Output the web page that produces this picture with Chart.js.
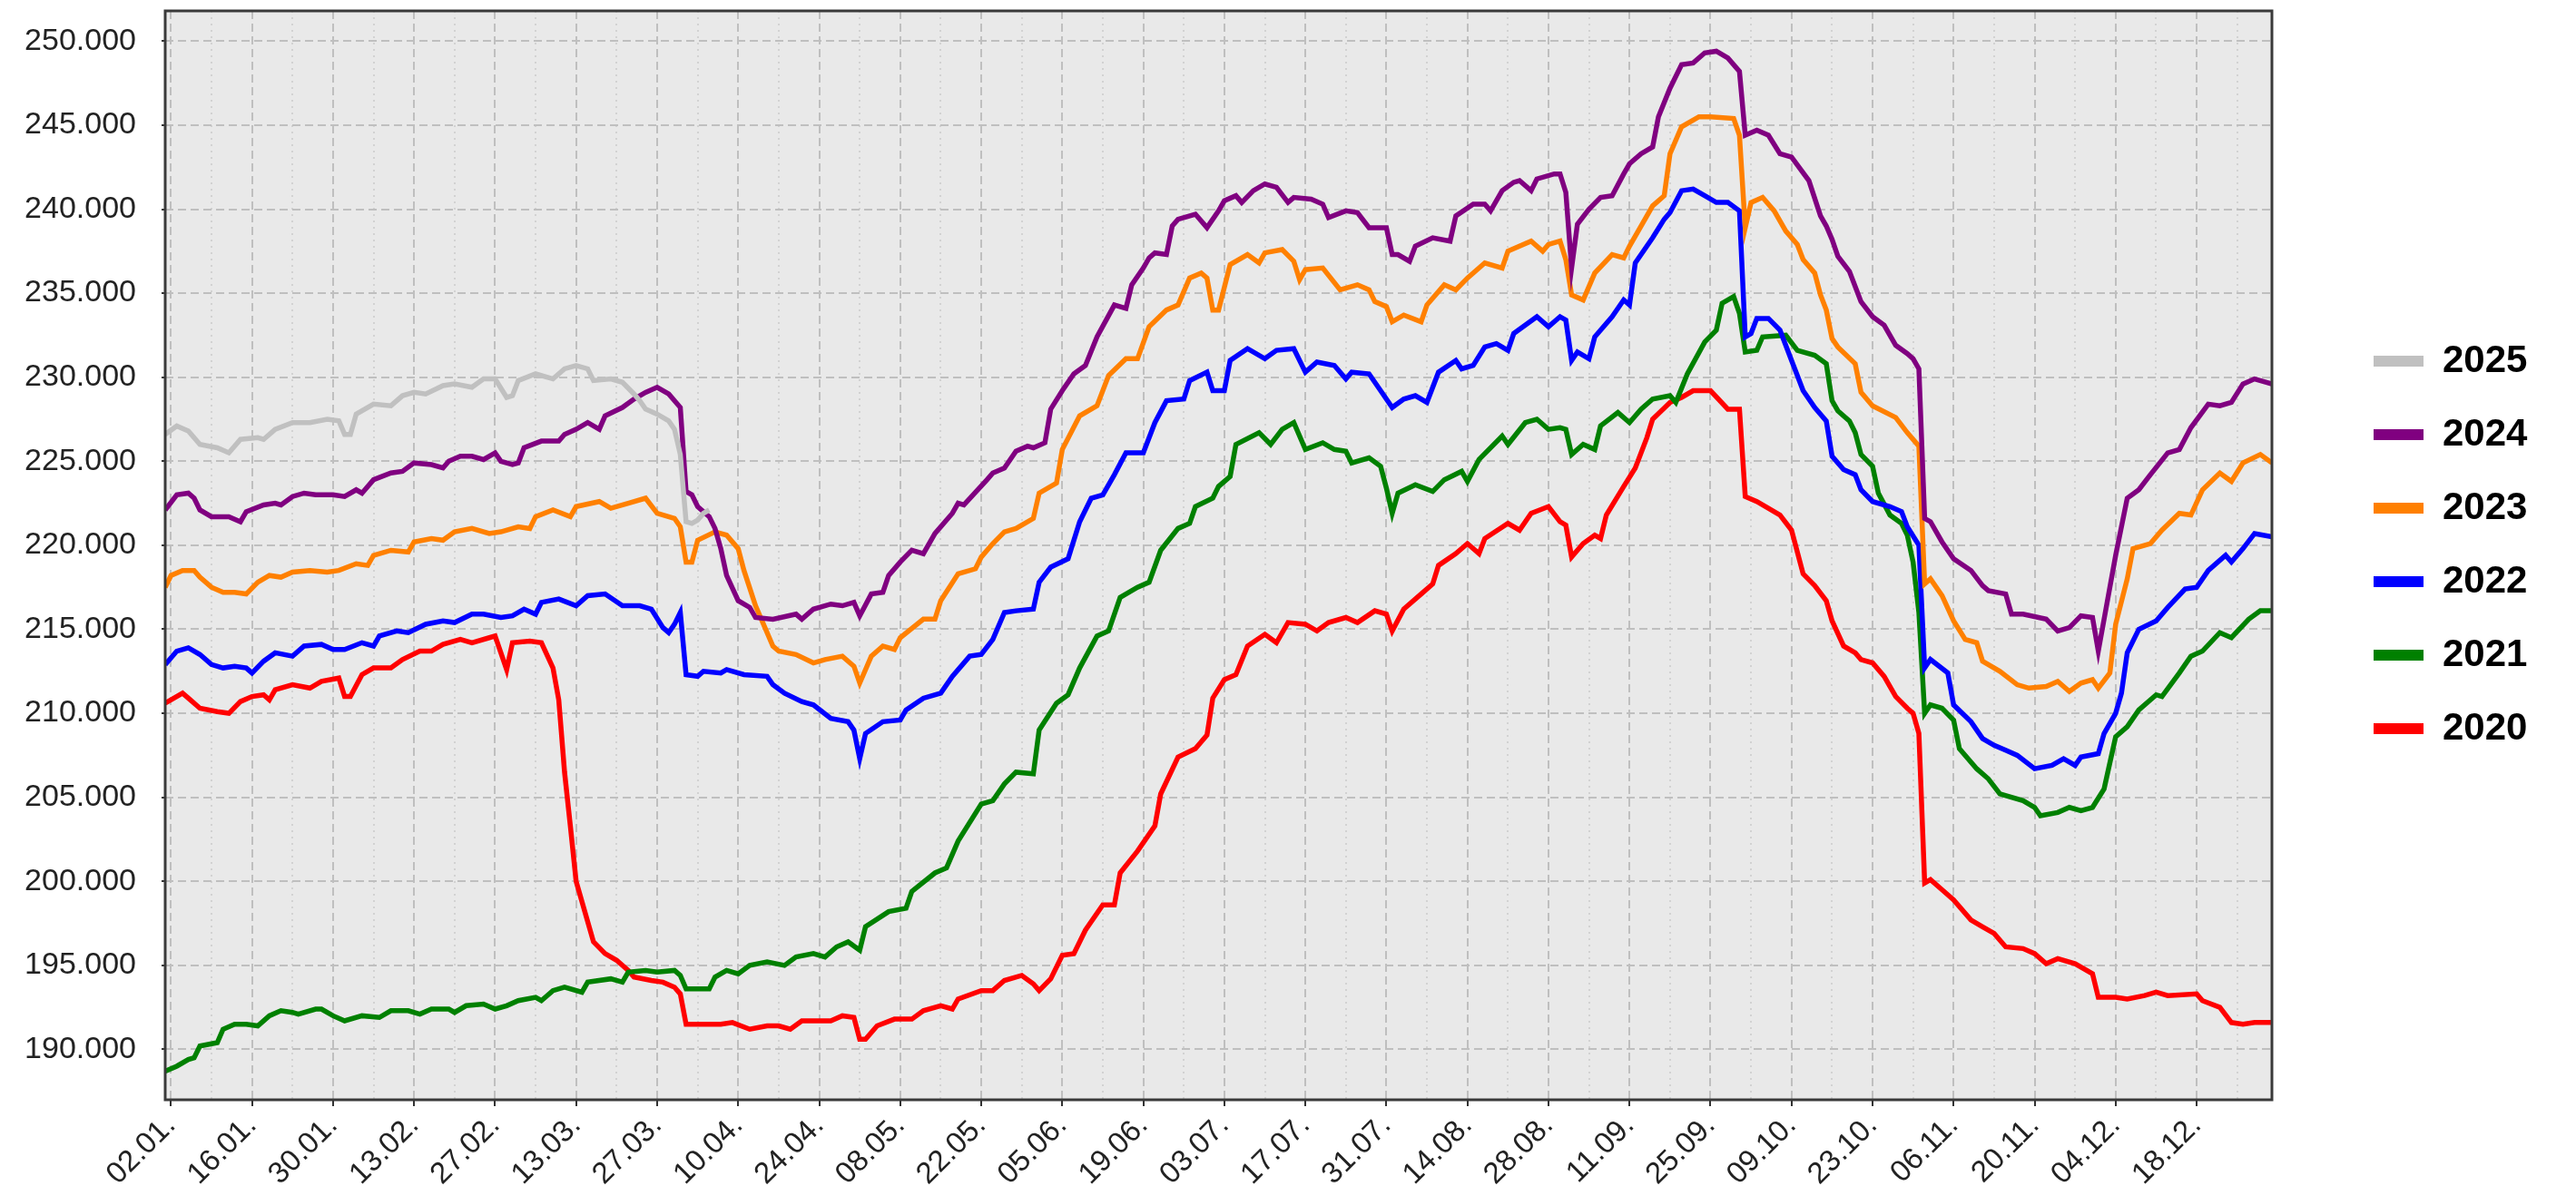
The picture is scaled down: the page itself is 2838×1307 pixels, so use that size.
<!DOCTYPE html>
<html>
<head>
<meta charset="utf-8">
<script src="https://cdn.jsdelivr.net/npm/chart.js"></script>
<style>
  html, body { margin: 0; padding: 0; background: #ffffff; }
  #wrap { width: 2838px; height: 1307px; position: relative; }
</style>
</head>
<body>
<div id="wrap"><canvas id="c"></canvas></div>
<script>
// ---------- data (day of year, value) ----------
const years = ['2025', '2024', '2023', '2022', '2021', '2020'];
const colors = ['#c0c0c0', '#800080', '#ff8000', '#0000ff', '#008000', '#ff0000'];

const s2025 = [[1,226600],[3,227100],[5,226800],[7,226000],[10,225800],[12,225500],[14,226300],[17,226400],[18,226300],[20,226900],[23,227300],[26,227300],[29,227500],[31,227400],[32,226600],[33,226600],[34,227800],[37,228400],[40,228300],[42,228900],[44,229100],[46,229000],[49,229500],[51,229600],[54,229400],[56,229900],[58,229900],[60,228800],[61,228900],[62,229800],[65,230200],[68,229900],[70,230500],[72,230700],[74,230500],[75,229800],[78,229900],[80,229700],[82,229000],[83,228600],[84,228100],[86,227800],[88,227400],[89,226900],[90,225400],[91,221400],[92,221300],[93,221500],[94,221900],[95,222100]];

const s2024 = [[1,222100],[3,223000],[5,223100],[6,222800],[7,222100],[9,221700],[12,221700],[14,221400],[15,222000],[18,222400],[20,222500],[21,222400],[23,222900],[25,223100],[27,223000],[30,223000],[32,222900],[34,223300],[35,223100],[37,223900],[40,224300],[42,224400],[44,224900],[47,224800],[49,224600],[50,225000],[52,225300],[54,225300],[56,225100],[58,225500],[59,225000],[61,224800],[62,224900],[63,225800],[66,226200],[69,226200],[70,226600],[72,226900],[74,227300],[76,226900],[77,227700],[80,228200],[82,228700],[84,229100],[86,229400],[88,229000],[90,228200],[91,223200],[92,223000],[93,222300],[95,221700],[96,221000],[97,219800],[98,218200],[100,216700],[102,216300],[103,215700],[106,215600],[110,215900],[111,215600],[113,216200],[116,216500],[118,216400],[120,216600],[121,215800],[123,217100],[125,217200],[126,218200],[128,219000],[130,219700],[132,219500],[134,220700],[137,221900],[138,222500],[139,222400],[143,223900],[144,224300],[146,224600],[148,225600],[150,225900],[151,225800],[153,226100],[154,228100],[156,229200],[158,230200],[160,230700],[162,232400],[165,234300],[167,234100],[168,235500],[170,236500],[171,237100],[172,237400],[174,237300],[175,239000],[176,239400],[179,239700],[181,238900],[183,239900],[184,240500],[186,240800],[187,240400],[189,241100],[191,241500],[193,241300],[195,240400],[196,240700],[199,240600],[201,240300],[202,239500],[205,239900],[207,239800],[209,238900],[212,238900],[213,237300],[214,237300],[216,236900],[217,237800],[220,238300],[223,238100],[224,239600],[227,240300],[229,240300],[230,239900],[232,241100],[234,241600],[235,241700],[237,241100],[238,241800],[241,242100],[242,242100],[243,241000],[244,236500],[245,239100],[247,240000],[249,240700],[251,240800],[253,242100],[254,242700],[256,243300],[258,243700],[259,245500],[261,247200],[263,248600],[265,248700],[267,249300],[269,249400],[271,249000],[273,248200],[274,244400],[276,244700],[278,244400],[280,243300],[282,243100],[285,241700],[287,239600],[288,239000],[289,238200],[290,237200],[292,236300],[294,234500],[296,233600],[298,233100],[300,231900],[302,231400],[303,231100],[304,230500],[305,221600],[306,221400],[308,220200],[310,219200],[313,218500],[315,217600],[316,217300],[319,217100],[320,215900],[322,215900],[326,215600],[328,214900],[330,215100],[332,215800],[334,215700],[335,213700],[336,215600],[338,219400],[340,222800],[342,223300],[344,224200],[347,225500],[349,225700],[351,227000],[354,228400],[356,228300],[358,228500],[360,229600],[362,229900],[365,229600]];

const s2023 = [[1,217500],[2,218200],[4,218500],[6,218500],[7,218100],[9,217500],[11,217200],[13,217200],[15,217100],[17,217800],[19,218200],[21,218100],[23,218400],[26,218500],[29,218400],[31,218500],[34,218900],[36,218800],[37,219400],[40,219700],[43,219600],[44,220200],[47,220400],[49,220300],[51,220800],[54,221000],[57,220700],[59,220800],[62,221100],[64,221000],[65,221700],[68,222100],[71,221700],[72,222300],[76,222600],[78,222200],[81,222500],[84,222800],[86,221900],[89,221600],[90,221100],[91,219000],[92,219000],[93,220300],[96,220800],[98,220600],[100,219800],[101,218500],[103,216400],[106,214000],[107,213700],[110,213500],[113,213000],[115,213200],[118,213400],[120,212800],[121,211800],[123,213400],[125,214000],[127,213800],[128,214500],[132,215600],[134,215600],[135,216700],[138,218300],[141,218600],[142,219300],[144,220100],[146,220800],[148,221000],[151,221600],[152,223100],[155,223700],[156,225700],[159,227700],[162,228300],[164,230100],[167,231100],[169,231100],[171,233000],[174,234000],[176,234300],[178,235900],[180,236200],[181,235900],[182,234000],[183,234000],[185,236700],[188,237300],[190,236800],[191,237400],[194,237600],[196,236900],[197,235800],[198,236400],[201,236500],[204,235200],[207,235500],[209,235200],[210,234500],[212,234200],[213,233300],[215,233700],[218,233300],[219,234300],[222,235500],[224,235200],[226,235900],[229,236800],[232,236500],[233,237500],[237,238100],[239,237500],[240,237900],[242,238100],[243,237000],[244,234900],[246,234600],[248,236200],[251,237300],[253,237100],[254,237800],[256,239000],[258,240200],[260,240800],[261,243300],[263,244900],[266,245500],[268,245500],[272,245400],[273,244400],[274,238900],[275,240400],[277,240700],[279,239900],[281,238700],[283,237900],[284,237000],[286,236200],[287,234900],[288,234000],[289,232300],[290,231800],[293,230800],[294,229100],[296,228300],[300,227600],[302,226700],[304,225900],[305,217700],[306,218000],[308,217000],[310,215500],[312,214400],[314,214200],[315,213100],[318,212500],[321,211700],[323,211500],[326,211600],[328,211900],[330,211300],[332,211800],[334,212000],[335,211500],[337,212400],[338,215300],[340,218000],[341,219800],[344,220100],[346,220900],[349,221900],[351,221800],[353,223300],[356,224300],[358,223800],[360,224900],[363,225400],[365,224900]];

const s2022 = [[1,212900],[3,213700],[5,213900],[7,213500],[9,212900],[11,212700],[13,212800],[15,212700],[16,212400],[18,213100],[20,213600],[23,213400],[25,214000],[28,214100],[30,213800],[32,213800],[35,214200],[37,214000],[38,214600],[41,214900],[43,214800],[46,215300],[49,215500],[51,215400],[54,215900],[56,215900],[59,215700],[61,215800],[63,216200],[65,215900],[66,216600],[69,216800],[72,216400],[74,217000],[77,217100],[80,216400],[83,216400],[85,216200],[87,215100],[88,214800],[89,215300],[90,216000],[91,212300],[93,212200],[94,212500],[97,212400],[98,212600],[101,212300],[105,212200],[106,211700],[108,211200],[111,210700],[113,210500],[116,209700],[119,209500],[120,209000],[121,207300],[122,208800],[125,209500],[128,209600],[129,210200],[132,210900],[135,211200],[137,212200],[140,213400],[142,213500],[144,214400],[146,216000],[148,216100],[151,216200],[152,217800],[154,218700],[157,219200],[159,221400],[161,222800],[163,223000],[165,224200],[167,225500],[170,225500],[172,227300],[174,228600],[177,228700],[178,229800],[181,230300],[182,229200],[184,229200],[185,231000],[188,231700],[191,231100],[193,231600],[196,231700],[198,230300],[200,230900],[203,230700],[205,229900],[206,230300],[209,230200],[211,229200],[213,228200],[215,228700],[217,228900],[219,228500],[221,230300],[224,231000],[225,230500],[227,230700],[229,231800],[231,232000],[233,231600],[234,232600],[238,233600],[240,233000],[242,233600],[243,233400],[244,231000],[245,231500],[247,231100],[248,232400],[251,233600],[253,234600],[254,234300],[255,236800],[258,238300],[260,239400],[261,239800],[263,241100],[265,241200],[267,240800],[269,240400],[271,240400],[273,239900],[274,232400],[275,232600],[276,233500],[278,233500],[280,232800],[282,231000],[284,229200],[286,228200],[288,227400],[289,225300],[291,224500],[293,224200],[294,223300],[296,222600],[299,222300],[301,222000],[302,221100],[304,220000],[305,212700],[306,213200],[309,212400],[310,210500],[313,209500],[315,208500],[317,208100],[319,207800],[321,207500],[324,206700],[327,206900],[329,207300],[331,206900],[332,207400],[335,207600],[336,208800],[338,210000],[339,211200],[340,213600],[342,215000],[345,215500],[347,216300],[350,217400],[352,217500],[354,218500],[357,219400],[358,219000],[360,219800],[362,220700],[365,220500]];

const s2021 = [[1,188700],[3,189000],[5,189400],[6,189500],[7,190200],[10,190400],[11,191200],[13,191500],[15,191500],[17,191400],[19,192000],[21,192300],[23,192200],[24,192100],[27,192400],[28,192400],[30,192000],[32,191700],[35,192000],[38,191900],[40,192300],[43,192300],[45,192100],[47,192400],[50,192400],[51,192200],[53,192600],[56,192700],[58,192400],[60,192600],[62,192900],[65,193100],[66,192900],[68,193500],[70,193700],[73,193400],[74,194000],[78,194200],[80,194000],[81,194600],[84,194700],[86,194600],[89,194700],[90,194400],[91,193600],[95,193600],[96,194300],[98,194700],[100,194500],[102,195000],[105,195200],[108,195000],[110,195500],[113,195700],[115,195500],[117,196100],[119,196400],[121,195900],[122,197300],[126,198200],[129,198400],[130,199400],[134,200500],[136,200800],[138,202400],[142,204600],[144,204800],[146,205800],[148,206500],[151,206400],[152,209000],[155,210600],[157,211100],[159,212700],[162,214600],[164,214900],[166,216900],[169,217500],[171,217800],[173,219700],[176,221000],[178,221300],[179,222300],[182,222800],[183,223500],[185,224100],[186,226000],[190,226700],[192,226000],[194,226900],[196,227300],[198,225700],[201,226100],[203,225700],[205,225600],[206,224900],[209,225200],[211,224700],[212,223400],[213,221900],[214,223100],[217,223600],[220,223200],[222,223900],[225,224400],[226,223800],[228,225100],[232,226500],[233,226000],[236,227300],[238,227500],[240,226900],[242,227000],[243,226900],[244,225400],[246,226000],[248,225700],[249,227100],[252,227900],[254,227300],[256,228100],[258,228700],[261,228900],[262,228500],[264,230200],[267,232100],[269,232800],[270,234400],[272,234800],[273,233800],[274,231500],[276,231600],[277,232400],[281,232500],[283,231600],[286,231300],[288,230800],[289,228600],[290,228000],[292,227400],[293,226700],[294,225400],[296,224700],[297,223100],[299,221800],[301,221300],[302,220600],[303,219000],[304,216000],[305,210000],[306,210500],[308,210300],[310,209600],[311,207900],[314,206700],[316,206100],[318,205200],[322,204800],[324,204400],[325,203900],[328,204100],[330,204400],[332,204200],[334,204400],[336,205500],[338,208600],[340,209200],[342,210200],[345,211100],[346,211000],[349,212400],[351,213400],[353,213700],[356,214800],[358,214500],[361,215600],[363,216100],[365,216100]];

const s2020 = [[1,210600],[4,211200],[5,210900],[7,210300],[10,210100],[12,210000],[14,210700],[16,211000],[18,211100],[19,210800],[20,211400],[23,211700],[26,211500],[28,211900],[31,212100],[32,211000],[33,211000],[35,212300],[37,212700],[40,212700],[42,213200],[45,213700],[47,213700],[49,214100],[52,214400],[54,214200],[57,214500],[58,214600],[60,212600],[61,214200],[64,214300],[66,214200],[68,212700],[69,210800],[70,206500],[71,203300],[72,200000],[73,198800],[75,196400],[77,195700],[79,195300],[81,194700],[82,194300],[85,194100],[87,194000],[89,193700],[90,193300],[91,191500],[97,191500],[99,191600],[102,191200],[105,191400],[107,191400],[109,191200],[111,191700],[116,191700],[118,192000],[120,191900],[121,190600],[122,190600],[124,191400],[127,191800],[130,191800],[132,192300],[135,192600],[137,192400],[138,193000],[142,193500],[144,193500],[146,194100],[149,194400],[151,193900],[152,193500],[154,194200],[156,195600],[158,195700],[160,197100],[163,198600],[165,198600],[166,200500],[169,201800],[172,203300],[173,205200],[176,207400],[179,207900],[181,208700],[182,210900],[184,212000],[186,212300],[188,214000],[191,214700],[193,214200],[195,215400],[198,215300],[200,214900],[202,215400],[205,215700],[207,215400],[210,216100],[212,215900],[213,214900],[215,216200],[218,217100],[220,217700],[221,218800],[224,219500],[226,220100],[228,219500],[229,220400],[233,221300],[235,220900],[237,221900],[240,222300],[242,221400],[243,221200],[244,219300],[246,220100],[248,220600],[249,220400],[250,221800],[253,223500],[255,224600],[257,226400],[258,227500],[261,228500],[263,228800],[265,229200],[268,229200],[271,228100],[273,228100],[274,222900],[276,222600],[278,222200],[280,221800],[282,220900],[284,218300],[286,217600],[288,216700],[289,215500],[291,214000],[293,213600],[294,213200],[296,213000],[298,212200],[300,211000],[302,210300],[303,210000],[304,208800],[305,199900],[306,200100],[308,199500],[310,198900],[313,197700],[315,197300],[317,196900],[319,196100],[322,196000],[324,195700],[326,195100],[328,195400],[331,195100],[334,194500],[335,193100],[338,193100],[340,193000],[343,193200],[345,193400],[347,193200],[352,193300],[353,192900],[356,192500],[358,191600],[360,191500],[362,191600],[365,191600]];

const seriesData = [s2025, s2024, s2023, s2022, s2021, s2020];

// tick labels
const xTickDays = [2,16,30,44,58,72,86,100,114,128,142,156,170,184,198,212,226,240,254,268,282,296,310,324,338,352];
const xTickLabels = ['02.01.','16.01.','30.01.','13.02.','27.02.','13.03.','27.03.','10.04.','24.04.','08.05.','22.05.','05.06.','19.06.','03.07.','17.07.','31.07.','14.08.','28.08.','11.09.','25.09.','09.10.','23.10.','06.11.','20.11.','04.12.','18.12.'];
const yTicks = [190000,195000,200000,205000,210000,215000,220000,225000,230000,235000,240000,245000,250000];

// ---------- chart ----------
const FONT = "'Liberation Sans', Arial, Helvetica, sans-serif";
const gridDays = [];
xTickDays.forEach(d => { gridDays.push(d); if (d + 7 <= 365) gridDays.push(d + 7); });
const isMajor = v => xTickDays.indexOf(v) !== -1;
const fmt = v => String(Math.round(v)).replace(/\B(?=(\d{3})+(?!\d))/g, '.');

const datasets = years.map((y, i) => ({
  label: y,
  data: seriesData[i].map(p => ({ x: p[0], y: p[1] })),
  borderColor: colors[i],
  backgroundColor: colors[i],
  borderWidth: 5.5,
  pointRadius: 0,
  tension: 0,
  fill: false
}));

const framePlugin = {
  id: 'frame',
  beforeDraw(chart) {
    const { ctx, chartArea: a } = chart;
    ctx.save();
    ctx.fillStyle = '#e9e9e9';
    ctx.fillRect(a.left, a.top, a.right - a.left, a.bottom - a.top);
    ctx.restore();
  },
  afterDraw(chart) {
    const { ctx, chartArea: a } = chart;
    ctx.save();
    ctx.strokeStyle = '#3a3a3a';
    ctx.lineWidth = 3;
    ctx.strokeRect(a.left, a.top, a.right - a.left, a.bottom - a.top);
    ctx.restore();
  }
};

const baseLabels = Chart.defaults.plugins.legend.labels.generateLabels;

new Chart(document.getElementById('c'), {
  type: 'line',
  data: { datasets },
  options: {
    responsive: true,
    maintainAspectRatio: false,
    animation: false,
    devicePixelRatio: 1,
    layout: { padding: { top: 12, right: 50, bottom: 0, left: 0 } },
    plugins: {
      tooltip: { enabled: false },
      legend: {
        position: 'right',
        align: 'start',
        maxWidth: 212,
        title: { display: true, text: '', font: { size: 1 }, padding: { top: 324.8, bottom: 0 } },
        labels: {
          boxWidth: 55,
          boxHeight: 12,
          padding: 39,
          color: '#000000',
          font: { family: FONT, size: 42, weight: 'bold' },
          generateLabels(chart) {
            return baseLabels(chart).map(l => Object.assign({}, l, { lineWidth: 0, fillStyle: l.strokeStyle }));
          }
        }
      }
    },
    scales: {
      x: {
        type: 'linear',
        min: 1,
        max: 365,
        afterBuildTicks(s) { s.ticks = gridDays.map(v => ({ value: v })); },
        afterFit(s) { s.height = 95; },
        ticks: {
          autoSkip: false,
          minRotation: 45,
          maxRotation: 45,
          padding: 2,
          color: '#222222',
          font: { family: FONT, size: 33 },
          callback(v) { const k = xTickDays.indexOf(v); return k === -1 ? '' : xTickLabels[k]; }
        },
        grid: {
          color: c => isMajor(c.tick && c.tick.value) ? '#bfbfbf' : '#d2d2d2',
          lineWidth: 2,
          tickLength: 7,
          tickWidth: 2,
          tickColor: c => isMajor(c.tick && c.tick.value) ? '#333333' : 'rgba(0,0,0,0)',
          tickBorderDash: []
        },
        border: {
          display: false,
          dash: c => isMajor(c.tick && c.tick.value) ? [9, 5] : [2, 5]
        }
      },
      y: {
        type: 'linear',
        position: 'left',
        min: 187000,
        max: 251800,
        afterBuildTicks(s) { s.ticks = yTicks.map(v => ({ value: v })); },
        afterFit(s) { s.width = 182; s.paddingTop = 0; s.paddingBottom = 0; },
        ticks: {
          padding: 28,
          color: '#222222',
          font: { family: FONT, size: 34 },
          callback: v => fmt(v)
        },
        grid: {
          color: '#bfbfbf',
          lineWidth: 2,
          tickLength: 4,
          tickWidth: 2,
          tickColor: '#333333',
          tickBorderDash: []
        },
        border: { display: false, dash: [9, 5] }
      },
      spacer: {
        type: 'linear',
        position: 'right',
        display: true,
        afterFit(s) { s.width = 73; s.paddingTop = 0; s.paddingBottom = 0; },
        grid: { display: false, drawTicks: false },
        ticks: { display: false },
        border: { display: false }
      }
    }
  },
  plugins: [framePlugin]
});
</script>
</body>
</html>
